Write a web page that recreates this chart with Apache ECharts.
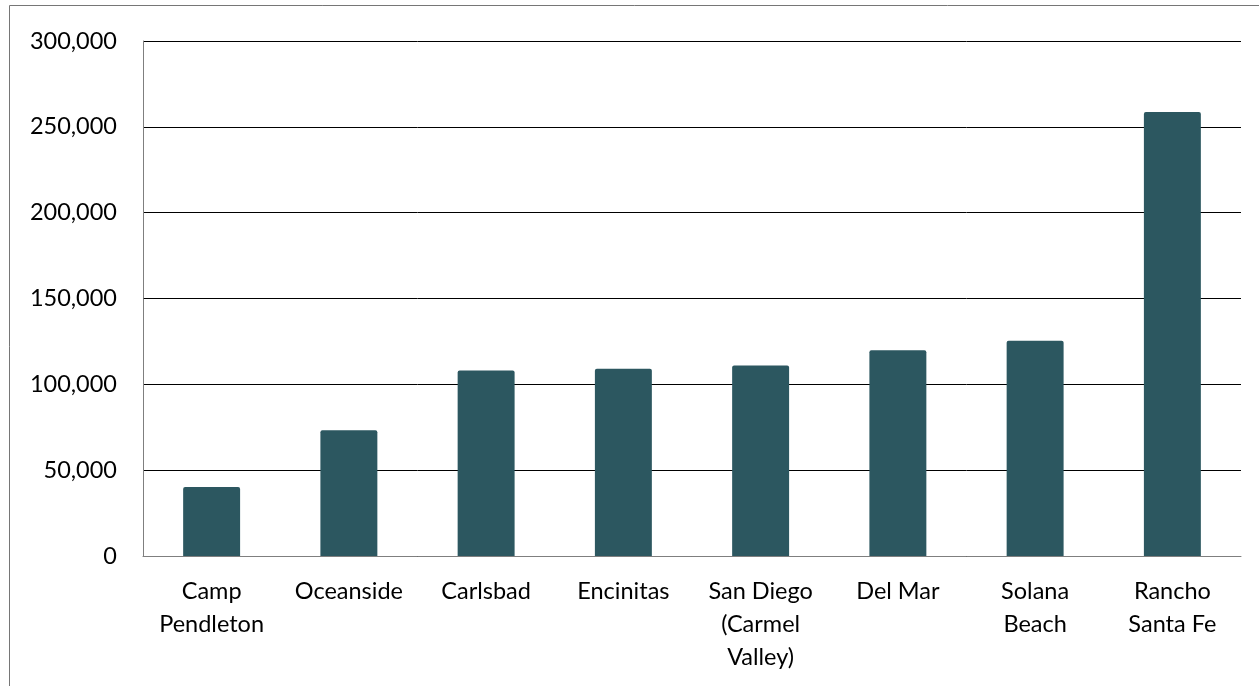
<!DOCTYPE html>
<html>
<head>
<meta charset="utf-8">
<script src="https://cdn.jsdelivr.net/npm/echarts@6/dist/echarts.min.js"></script>
<style>
  html, body { margin: 0; padding: 0; background: #fff; }
  #chart { width: 1259px; height: 686px; }
</style>
</head>
<body>
<div id="chart"></div>
<script>
// Median household income by community, north San Diego County coast
const communities = [
  'Camp\nPendleton',
  'Oceanside',
  'Carlsbad',
  'Encinitas',
  'San Diego\n(Carmel\nValley)',
  'Del Mar',
  'Solana\nBeach',
  'Rancho\nSanta Fe'
];
const incomes = [40200, 73200, 108100, 109100, 110900, 119800, 125400, 258700];

const chart = echarts.init(document.getElementById('chart'), null, { renderer: 'canvas' });
const font = 'Lato, "Open Sans", "Liberation Sans", sans-serif';

chart.setOption({
  animation: false,
  graphic: [{
    type: 'rect',
    shape: { x: 9.5, y: 5.5, width: 1400, height: 800 },
    style: { fill: 'none', stroke: '#767676', lineWidth: 1 },
    silent: true
  }],
  grid: { left: 143, right: 18, top: 41, bottom: 130 },
  xAxis: {
    type: 'category',
    data: communities,
    axisLine: { lineStyle: { color: '#7f7f7f', width: 1 } },
    axisTick: { show: false },
    axisLabel: {
      color: '#000',
      fontFamily: font,
      fontSize: 23.5,
      lineHeight: 33,
      margin: 19,
      interval: 0
    }
  },
  yAxis: {
    type: 'value',
    min: 0,
    max: 300000,
    interval: 50000,
    axisLine: { show: true, lineStyle: { color: '#7f7f7f', width: 1 } },
    axisTick: { show: false },
    splitLine: { lineStyle: { color: '#000', width: 1 } },
    axisLabel: {
      color: '#000',
      fontFamily: font,
      fontSize: 23.5,
      margin: 26,
      formatter: v => v.toLocaleString('en-US')
    }
  },
  series: [{
    type: 'bar',
    data: incomes,
    barWidth: '41.5%',
    itemStyle: { color: '#2c5760', borderRadius: [2, 2, 0, 0] }
  }]
});
</script>
</body>
</html>
